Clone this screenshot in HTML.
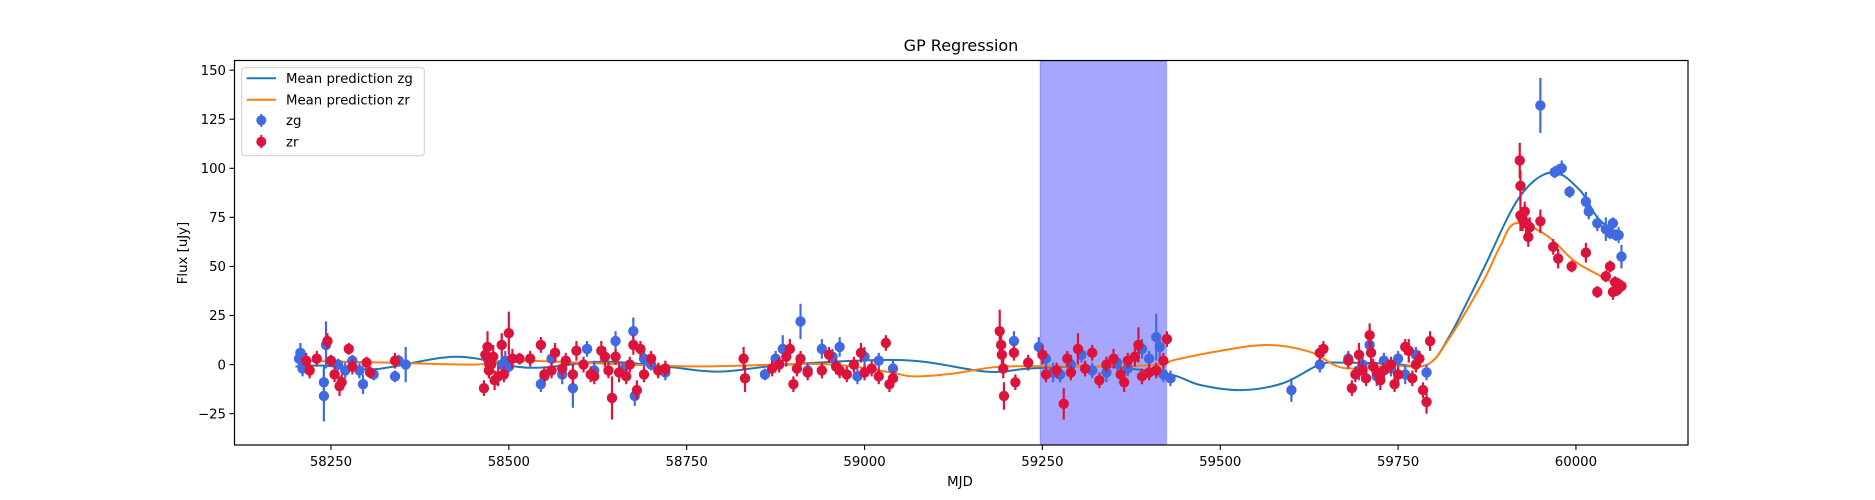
<!DOCTYPE html>
<html><head><meta charset="utf-8"><style>
html,body{margin:0;padding:0;background:#fff;}
svg{display:block;font-family:"DejaVu Sans","Liberation Sans",sans-serif;}
</style></head><body>
<svg id="chart" width="1875" height="500" viewBox="0 0 1875 500">
<text x="961" y="51" text-anchor="middle" font-size="16" fill="#000">GP Regression</text>
<rect x="1040" y="61" width="126.7" height="384" fill="#0000ff" fill-opacity="0.35" stroke="#0000ff" stroke-opacity="0.2"/>
<g id="lines"></g>
<g id="zg"></g>
<g id="zr"></g>
<rect x="234.5" y="60.5" width="1453.5" height="384.5" fill="none" stroke="#000" stroke-width="1.2"/>
<g id="xticks"></g>
<g id="yticks"></g>
<text x="960" y="486" text-anchor="middle" font-size="13.3">MJD</text>
<text transform="translate(187,253) rotate(-90)" text-anchor="middle" font-size="13.3">Flux [uJy]</text>
<g>
<rect x="241.7" y="67.7" width="182.6" height="88" rx="3" fill="#fff" fill-opacity="0.8" stroke="#ccc"/>
<line x1="246.7" y1="78.3" x2="276" y2="78.3" stroke="#1f77b4" stroke-width="2"/>
<text x="286" y="83" font-size="13.3">Mean prediction zg</text>
<line x1="246.7" y1="99.7" x2="276" y2="99.7" stroke="#ff7f0e" stroke-width="2"/>
<text x="286" y="104.4" font-size="13.3">Mean prediction zr</text>
<line x1="261.3" y1="114" x2="261.3" y2="127" stroke="#4169e1" stroke-width="2"/>
<circle cx="261.3" cy="120.3" r="5" fill="#4169e1"/>
<text x="286" y="125" font-size="13.3">zg</text>
<line x1="261.3" y1="135" x2="261.3" y2="148" stroke="#dc143c" stroke-width="2"/>
<circle cx="261.3" cy="141.7" r="5" fill="#dc143c"/>
<text x="286" y="146.4" font-size="13.3">zr</text>
</g>
</svg>
<script>
const xTicks = [58250, 58500, 58750, 59000, 59250, 59500, 59750, 60000];
const yTicks = [-25, 0, 25, 50, 75, 100, 125, 150];
const zgCurveMjd = [58200,58240,58313,58426,58528,58632,58720,58797,58891,59054,59172,59232,59330,59425,59472,59530,59588,59640,59673,59740,59791,59823,59869,59920,59966,60005,60030,60052,60062];
const zgCurveFlux = [-1,-0.5,-2.3,4,-1.6,1.5,-1,-3.6,0,2.3,-3.6,-2,-1,-4.6,-10.4,-13,-9.5,0,1,0.5,0,15,48,85,98,89,75,68.5,66];
const zrCurveMjd = [58200,58330,58450,58516,58750,58937,59031,59068,59124,59195,59331,59415,59435,59500,59566,59626,59673,59740,59791,59823,59869,59893,59915,59958,59997,60030,60045,60062];
const zrCurveFlux = [2,1,0,2,-0.9,0.3,-3.6,-6,-4.6,-1,-1,0,2.3,7,10,6.5,-1.7,-0.5,0,14,42,60,72,66,53,46,43,40.5];
// [mjd, flux, err]
const zgObs = [[58205,3,4],[58207,6,5],[58210,-2,4],[58213,0,3],[58240,-9,8],[58240,-16,13],[58243,10,12],[58260,0,3],[58270,-3,4],[58280,2,3],[58290,-3,4],[58295,-10,5],[58310,-5,3],[58340,-6,3],[58355,0,9],[58345,2,3],
[58470,3,4],[58490,0,4],[58495,2,5],[58500,-1,3],[58545,-10,4],[58550,-6,5],[58560,3,4],[58575,-5,5],[58590,-12,10],[58610,8,4],[58620,-3,5],[58650,12,5],[58660,-3,4],[58675,17,7],[58677,-16,5],[58690,3,4],[58700,0,3],[58720,-4,4],
[58860,-5,3],[58875,3,4],[58885,8,7],[58910,22,9],[58920,-3,4],[58940,8,5],[58955,4,4],[58965,9,5],[58990,-6,4],[59000,4,5],[59020,2,4],[59040,-2,4],
[59210,12,5],[59245,9,5],[59255,3,4],[59265,-4,5],[59275,-5,4],[59290,0,5],[59305,5,4],[59320,-3,4],[59340,-4,5],[59355,1,4],[59370,-2,4],[59390,8,5],[59400,3,4],[59410,14,12],[59415,9,6],[59420,-5,4],[59430,-7,4],
[59600,-13,6],[59640,0,4],
[59680,3,4],[59695,-3,5],[59700,0,4],[59710,10,6],[59720,-6,5],[59730,2,4],[59740,-2,4],[59750,3,4],[59760,-5,5],[59775,5,4],[59790,-4,4],
[59950,132,14],[59970,98,3],[59975,99,3],[59980,100,4],[59991,88,3],[60014,83,5],[60018,78,4],[60030,72,4],[60042,69,6],[60048,67,3],[60052,72,3],[60056,66,3],[60060,66,4],[60064,55,6]];
const zrObs = [[58215,2,4],[58220,-3,4],[58230,3,4],[58245,12,4],[58250,2,3],[58255,-5,4],[58262,-11,5],[58265,-9,4],[58275,8,3],[58280,-1,4],[58300,1,3],[58305,-4,3],[58340,2,4],
[58465,-12,4],[58467,5,6],[58470,9,8],[58472,-3,4],[58475,0,5],[58478,4,6],[58480,-8,5],[58485,-6,5],[58490,10,6],[58493,-5,4],[58500,16,11],[58505,3,5],[58515,3,3],[58530,3,4],[58545,10,4],[58550,-5,4],[58560,-3,4],[58565,6,5],[58575,-2,5],[58580,2,4],[58590,-5,5],[58595,7,5],[58605,0,4],[58615,-5,4],[58620,-6,4],[58630,7,5],[58635,4,5],[58640,-3,4],[58645,-17,11],[58650,4,4],[58655,-4,5],[58665,-6,4],[58670,0,4],[58675,10,5],[58680,-13,5],[58685,8,4],[58690,-5,4],[58700,3,4],[58710,-3,4],[58720,-2,4],
[58830,3,6],[58832,-7,7],[58870,-2,4],[58880,0,4],[58890,4,5],[58895,8,5],[58900,-10,4],[58905,-2,4],[58910,3,4],[58920,-4,4],[58940,-3,4],[58950,5,4],[58960,-1,4],[58965,-3,4],[58975,-5,4],[58985,0,4],[58995,6,5],[59000,-4,4],[59010,-2,4],[59020,-6,4],[59030,11,4],[59035,-10,4],[59040,-7,4],
[59190,17,11],[59192,10,7],[59193,5,6],[59195,-2,5],[59196,-16,7],[59210,6,4],[59212,-9,4],[59230,1,4],[59250,5,5],[59255,-5,4],[59270,-3,4],[59280,-20,8],[59285,3,4],[59290,-4,4],[59300,8,8],[59310,-2,4],[59320,6,4],[59330,-8,4],[59340,0,4],[59350,3,5],[59360,-5,4],[59365,-9,5],[59370,2,4],[59380,4,5],[59385,10,9],[59390,-6,4],[59400,-4,4],[59410,-3,4],[59420,2,4],[59425,13,4],
[59640,6,4],[59645,8,4],
[59680,2,4],[59685,-12,4],[59690,-5,4],[59695,5,6],[59700,-3,5],[59705,-7,4],[59710,15,6],[59712,6,6],[59715,-1,4],[59720,-4,4],[59725,-8,5],[59730,-3,4],[59740,0,4],[59745,-10,4],[59750,-5,4],[59760,9,4],[59765,7,6],[59770,-7,4],[59775,0,4],[59780,3,4],[59785,-13,4],[59790,-19,6],[59795,12,5],
[59921,104,9],[59922,91,8],[59922,76,8],[59925,74,6],[59928,78,5],[59930,72,6],[59933,65,5],[59935,70,5],[59950,73,6],[59968,60,4],[59975,54,5],[59994,50,3],[60014,57,5],[60030,37,3],[60042,45,3],[60048,50,3],[60052,37,4],[60055,42,3],[60058,38,3],[60060,41,3],[60064,40,3]];

const NS = "http://www.w3.org/2000/svg";
function xs(m){ return 331 + (m - 58250) * 0.7114; }
function ys(f){ return 364.6 - f * 1.963; }
function mk(tag, attrs, parent){ const e = document.createElementNS(NS, tag); for (const k in attrs) e.setAttribute(k, attrs[k]); parent.appendChild(e); return e; }

const xg = document.getElementById('xticks');
xTicks.forEach(t => {
  const x = xs(t);
  const l = mk('line', {x1:x, x2:x, y1:445, y2:450, stroke:'#000', 'stroke-width':1.1}, xg);
  
  
  const tx = mk('text', {x:x, y:466, 'text-anchor':'middle', 'font-size':13.3}, xg);
  tx.textContent = t;
  
  
});
const yg = document.getElementById('yticks');
yTicks.forEach(t => {
  const y = ys(t);
  const l = mk('line', {x1:229.5, x2:234.5, y1:y, y2:y, stroke:'#000', 'stroke-width':1.1}, yg);
  
  
  const tx = mk('text', {x:226, y:y+4.7, 'text-anchor':'end', 'font-size':13.3}, yg);
  tx.textContent = t < 0 ? '\u2212' + Math.abs(t) : t;
  
  
});

function smoothPath(mj, fl){
  const p = mj.map((m, i) => [xs(m), ys(fl[i])]);
  let d = 'M' + p[0][0] + ',' + p[0][1];
  for (let i = 0; i < p.length - 1; i++) {
    const p0 = p[Math.max(0, i-1)], p1 = p[i], p2 = p[i+1], p3 = p[Math.min(p.length-1, i+2)];
    const c1x = p1[0] + (p2[0]-p0[0])/6, c1y = p1[1] + (p2[1]-p0[1])/6;
    const c2x = p2[0] - (p3[0]-p1[0])/6, c2y = p2[1] - (p3[1]-p1[1])/6;
    d += ' C' + c1x + ',' + c1y + ' ' + c2x + ',' + c2y + ' ' + p2[0] + ',' + p2[1];
  }
  return d;
}
const lg = document.getElementById('lines');
const lzg = mk('path', {d: smoothPath(zgCurveMjd, zgCurveFlux), fill:'none', stroke:'#1f77b4', 'stroke-width':2}, lg);


const lzr = mk('path', {d: smoothPath(zrCurveMjd, zrCurveFlux), fill:'none', stroke:'#ff7f0e', 'stroke-width':2}, lg);



function drawPoints(obs, color, gid, name){
  const g = document.getElementById(gid);
  obs.forEach(o => {
    const x = xs(o[0]), y = ys(o[1]);
    const e = mk('line', {x1:x, x2:x, y1:ys(o[1]+o[2]), y2:ys(o[1]-o[2]), stroke:color, 'stroke-width':2.2}, g);
    
    
    const c = mk('circle', {cx:x, cy:y, r:5.2, fill:color}, g);
    
    
  });
}
drawPoints(zgObs, '#4169e1', 'zg', 'zg');
drawPoints(zrObs, '#dc143c', 'zr', 'zr');
</script>
</body></html>
